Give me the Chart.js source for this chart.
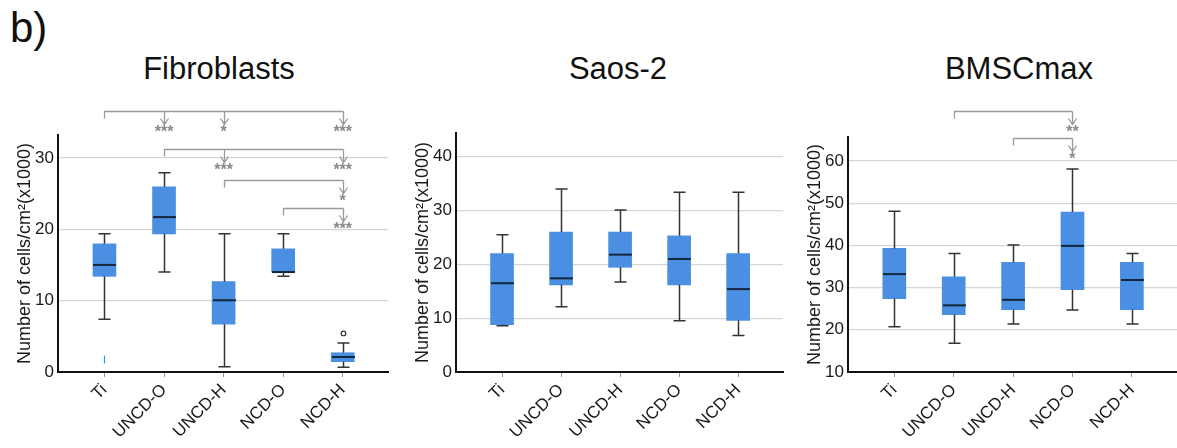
<!DOCTYPE html>
<html>
<head>
<meta charset="utf-8">
<script src="https://cdn.jsdelivr.net/npm/chart.js@4.4.1/dist/chart.umd.min.js"></script>
<style>
    body { margin: 0; width: 1177px; height: 448px; background: #fff; position: relative; overflow: hidden;
           font-family: "Liberation Sans", Arial, sans-serif; color: #111; }
    .panel { position: absolute; top: 0; height: 448px; }
    .title { position: absolute; top: 53px; width: 300px; text-align: center; font-size: 31px; line-height: 31px; }
    #tag { position: absolute; left: 10px; top: 7px; font-size: 42px; line-height: 42px; }
</style>
</head>
<body>
<div id="tag">b)</div>
<div class="title" style="left:69px">Fibroblasts</div>
<div class="title" style="left:468px">Saos-2</div>
<div class="title" style="left:869px">BMSCmax</div>

<div class="panel" style="left:0;width:390px"><canvas id="fibroChart"></canvas></div>
<div class="panel" style="left:398px;width:387px"><canvas id="saosChart"></canvas></div>
<div class="panel" style="left:790px;width:387px"><canvas id="bmscChart"></canvas></div>

<script>
// categories (same for all three panels)
const categories = ['Ti', 'UNCD-O', 'UNCD-H', 'NCD-O', 'NCD-H'];

// Fibroblasts (x1000 cells/cm2)
const fibroMin     = [7.4, 14.0, 0.75, 13.4, 0.65];
const fibroQ1      = [13.4, 19.35, 6.7, 14.0, 1.45];
const fibroMedian  = [15.0, 21.7, 10.05, 14.0, 2.1];
const fibroQ3      = [17.95, 25.95, 12.65, 17.25, 2.7];
const fibroMax     = [19.35, 27.9, 19.35, 19.35, 4.05];
const fibroOutliers = [[], [], [], [], [5.4]];
const fibroStray   = [[1.2, 2.3], null, null, null, null];
const fibroTicks   = [0, 10, 20, 30];
const fibroRange   = [0, 33.2];
const fibroBrackets = [
    { from: 0, level: 36.6, to: [1, 2, 4], stars: ['***', '*', '***'] },
    { from: 1, level: 31.3, to: [2, 4], stars: ['***', '***'] },
    { from: 2, level: 26.9, to: [4], stars: ['*'] },
    { from: 3, level: 23.0, to: [4], stars: ['***'] }
];

// Saos-2
const saosMin     = [8.6, 12.1, 16.7, 9.5, 6.8];
const saosQ1      = [8.8, 16.2, 19.45, 16.2, 9.6];
const saosMedian  = [16.5, 17.4, 21.8, 21.0, 15.4];
const saosQ3      = [22.0, 26.0, 26.0, 25.3, 22.0];
const saosMax     = [25.5, 34.0, 30.1, 33.4, 33.4];
const saosTicks   = [0, 10, 20, 30, 40];
const saosRange   = [0, 44.4];

// BMSCmax
const bmscMin     = [20.7, 16.8, 21.4, 24.7, 21.4];
const bmscQ1      = [27.4, 23.6, 24.8, 29.5, 24.8];
const bmscMedian  = [33.2, 25.8, 27.1, 39.9, 31.8];
const bmscQ3      = [39.3, 32.55, 36.0, 47.9, 36.0];
const bmscMax     = [48.1, 38.1, 40.1, 58.1, 38.1];
const bmscTicks   = [10, 20, 30, 40, 50, 60];
const bmscRange   = [10, 65.7];
const bmscBrackets = [
    { from: 1, level: 71.9, to: [3], stars: ['**'] },
    { from: 2, level: 65.5, to: [3], stars: ['*'] }
];

Chart.defaults.font.family = '"Liberation Sans", Arial, sans-serif';
Chart.defaults.color = '#222';

// whiskers, medians, outliers and the significance brackets
function boxExtras(s) {
    return {
        id: 'boxExtras',
        afterDraw(chart) {
            const { ctx, scales: { x, y } } = chart;
            ctx.save();
            for (let i = 0; i < s.median.length; i++) {
                const cx = Math.round(x.getPixelForValue(i)) + 0.5;
                const yMin = y.getPixelForValue(s.min[i]);
                const yMax = y.getPixelForValue(s.max[i]);
                ctx.strokeStyle = '#333';
                ctx.lineWidth = 1.5;
                ctx.beginPath();
                ctx.moveTo(cx, y.getPixelForValue(s.q3[i])); ctx.lineTo(cx, yMax);
                ctx.moveTo(cx, y.getPixelForValue(s.q1[i])); ctx.lineTo(cx, yMin);
                ctx.moveTo(cx - 6, yMax); ctx.lineTo(cx + 6, yMax);
                ctx.moveTo(cx - 6, yMin); ctx.lineTo(cx + 6, yMin);
                ctx.stroke();

                const yMed = y.getPixelForValue(s.median[i]);
                ctx.strokeStyle = '#15263d';
                ctx.lineWidth = 2;
                ctx.beginPath();
                ctx.moveTo(cx - 11.5, yMed); ctx.lineTo(cx + 11.5, yMed);
                ctx.stroke();

                (s.outliers ? s.outliers[i] : []).forEach(v => {
                    ctx.strokeStyle = '#333';
                    ctx.lineWidth = 1.2;
                    ctx.beginPath();
                    ctx.arc(cx, y.getPixelForValue(v), 2.3, 0, Math.PI * 2);
                    ctx.stroke();
                });

                const st = s.stray ? s.stray[i] : null;
                if (st) {
                    ctx.strokeStyle = '#4a8fe2';
                    ctx.lineWidth = 1.2;
                    ctx.beginPath();
                    ctx.moveTo(cx, y.getPixelForValue(st[0])); ctx.lineTo(cx, y.getPixelForValue(st[1]));
                    ctx.stroke();
                }
            }

            // brackets with arrows and stars
            ctx.strokeStyle = '#9a9a9a';
            ctx.fillStyle = '#8a8a8a';
            ctx.lineWidth = 1.3;
            ctx.font = 'bold 16px "Liberation Sans", Arial, sans-serif';
            ctx.textAlign = 'center';
            ctx.textBaseline = 'top';
            (s.brackets || []).forEach(b => {
                const by = Math.round(y.getPixelForValue(b.level)) + 0.5;
                const x0 = Math.round(x.getPixelForValue(b.from)) + 0.5;
                const x1 = Math.round(x.getPixelForValue(b.to[b.to.length - 1])) + 0.5;
                ctx.beginPath();
                ctx.moveTo(x0, by + 7); ctx.lineTo(x0, by); ctx.lineTo(x1, by);
                b.to.forEach(t => {
                    const tx = Math.round(x.getPixelForValue(t)) + 0.5;
                    const tip = by + 13;
                    ctx.moveTo(tx, by); ctx.lineTo(tx, tip);
                    ctx.moveTo(tx - 4, tip - 6); ctx.lineTo(tx, tip); ctx.lineTo(tx + 4, tip - 6);
                });
                ctx.stroke();
                b.to.forEach((t, k) => {
                    ctx.fillText(b.stars[k], x.getPixelForValue(t), by + 13);
                });
            });
            ctx.restore();
        }
    };
}

function buildPanel(id, s, range, ticks, topPad, rightPad) {
    const ctx = document.getElementById(id).getContext('2d');
    return new Chart(ctx, {
        type: 'bar',
        data: {
            datasets: [{
                data: categories.map((c, i) => ({ x: i, y: [s.q1[i], s.q3[i]] })),
                backgroundColor: '#4a8fe2',
                borderWidth: 0,
                barThickness: 23
            }]
        },
        options: {
            responsive: true,
            maintainAspectRatio: false,
            animation: false,
            layout: { padding: { top: topPad, right: rightPad, left: 0, bottom: 0 } },
            plugins: { legend: { display: false }, tooltip: { enabled: false } },
            scales: {
                x: {
                    type: 'linear',
                    min: -0.78,
                    max: 4.76,
                    offset: false,
                    afterBuildTicks: sc => { sc.ticks = categories.map((c, i) => ({ value: i })); },
                    afterFit: sc => { sc.height = 76; },
                    ticks: {
                        callback: v => categories[v],
                        minRotation: 45, maxRotation: 45, autoSkip: false,
                        font: { size: 17 }, color: '#1a1a1a', padding: 3
                    },
                    grid: { drawOnChartArea: false, drawTicks: true, tickLength: 5, color: '#999', offset: false },
                    border: { color: '#111', width: 2 }
                },
                y: {
                    min: range[0],
                    max: range[1],
                    afterBuildTicks: sc => { sc.ticks = ticks.map(v => ({ value: v })); },
                    afterFit: sc => { sc.width = 58; },
                    ticks: { font: { size: 17 }, color: '#1a1a1a', padding: 4 },
                    grid: { color: '#d6d6d6', lineWidth: 1.3, drawTicks: false },
                    border: { color: '#111', width: 2 },
                    title: {
                        display: true,
                        text: 'Number of cells/cm²(x1000)',
                        font: { size: 18 }, color: '#1a1a1a',
                        padding: { top: 14, bottom: 0 }
                    }
                }
            }
        },
        plugins: [boxExtras(s)]
    });
}

buildPanel('fibroChart', {
    min: fibroMin, q1: fibroQ1, median: fibroMedian, q3: fibroQ3, max: fibroMax,
    outliers: fibroOutliers, stray: fibroStray, brackets: fibroBrackets
}, fibroRange, fibroTicks, 135, 2);

buildPanel('saosChart', {
    min: saosMin, q1: saosQ1, median: saosMedian, q3: saosQ3, max: saosMax
}, saosRange, saosTicks, 133, 2);

buildPanel('bmscChart', {
    min: bmscMin, q1: bmscQ1, median: bmscMedian, q3: bmscQ3, max: bmscMax,
    brackets: bmscBrackets
}, bmscRange, bmscTicks, 137, 0);
</script>
</body>
</html>
